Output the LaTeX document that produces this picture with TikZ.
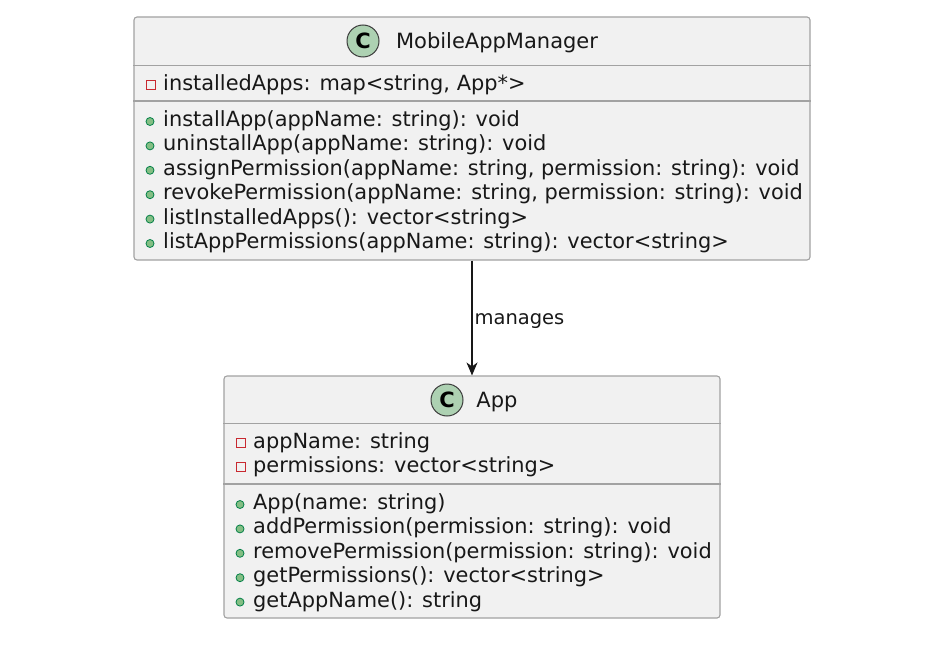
\documentclass[tikz,border=0pt]{standalone}
\usepackage{fontspec}
\setmainfont{DejaVu Sans}
\usetikzlibrary{arrows.meta}
\definecolor{boxfill}{HTML}{F1F1F1}
\definecolor{boxline}{HTML}{A2A2A2}
\definecolor{spotfill}{HTML}{ADD1B2}
\definecolor{pubfill}{HTML}{84BE84}
\definecolor{publine}{HTML}{038048}
\definecolor{privline}{HTML}{C82930}
\definecolor{inkline}{HTML}{181818}
\tikzset{
	classbox/.style={draw=boxline, fill=boxfill, line width=1.1pt, rounded corners=3pt, inner sep=0pt},
	sepline/.style={draw=boxline, line width=1.1pt},
	spot/.style={circle, draw=inkline!85, fill=spotfill, line width=1pt, minimum size=32pt, inner sep=0pt, font=\bfseries\fontsize{21}{21}\selectfont},
	classname/.style={anchor=base, inner sep=0pt, text=inkline, font=\fontsize{21}{24}\selectfont},
	member/.style={anchor=base west, inner sep=0pt, text=inkline, font=\fontsize{20.9}{24}\selectfont},
	pubdot/.style={draw=publine, fill=pubfill, line width=0.8pt},
	privbox/.style={draw=privline, line width=1pt},
	relation/.style={draw=inkline, line width=1.1pt, -{Stealth[length=13pt, width=11pt, inset=4pt]}},
	rellabel/.style={anchor=west, inner sep=0pt, text=inkline, font=\fontsize{19.5}{22}\selectfont}
}
\begin{document}
\begin{tikzpicture}[x=1pt, y=-1pt]
	%%%%% START %%%%%
	\useasboundingbox (0,0) rectangle (925,647);
	
	% MobileAppManager
	\node[classbox, minimum width=676pt, minimum height=243pt] (mgr) at (472,138.5) {};
	\node[spot] (mgrspot) at (363,41) {C};
	\node[classname] (mgrname) at (497,48.6) {MobileAppManager};
	\draw[sepline] (mgr.west |- 0,65.5) -- (mgr.east |- 0,65.5);
	\draw[sepline] (mgr.west |- 0,101) -- (mgr.east |- 0,101);
	
	\draw[privbox] (146.5,80.5) rectangle (155.5,89.5);
	\node[member] (mgrattr) at (163,90.5) {installedApps: map<string, App*>};
	
	\foreach \txt [count=\i] in {
		{installApp(appName: string): void},
		{uninstallApp(appName: string): void},
		{assignPermission(appName: string, permission: string): void},
		{revokePermission(appName: string, permission: string): void},
		{listInstalledApps(): vector<string>},
		{listAppPermissions(appName: string): vector<string>}}{
		\draw[pubdot] (150,{121.5+24.4*(\i-1)}) circle (4);
		\node[member] (mgrop\i) at (163,{126.5+24.4*(\i-1)}) {\txt};
	}
	
	% App
	\node[classbox, minimum width=496pt, minimum height=242pt] (app) at (472,497) {};
	\node[spot] (appspot) at (447,400) {C};
	\node[classname] (appname) at (497,407.6) {App};
	\draw[sepline] (app.west |- 0,423.5) -- (app.east |- 0,423.5);
	\draw[sepline] (app.west |- 0,484) -- (app.east |- 0,484);
	
	\foreach \txt [count=\i] in {
		{appName: string},
		{permissions: vector<string>}}{
		\draw[privbox] (236,{438.5+24.4*(\i-1)}) rectangle (245,{447.5+24.4*(\i-1)});
		\node[member] (appattr\i) at (253,{448.5+24.4*(\i-1)}) {\txt};
	}
	\foreach \txt [count=\i] in {
		{App(name: string)},
		{addPermission(permission: string): void},
		{removePermission(permission: string): void},
		{getPermissions(): vector<string>},
		{getAppName(): string}}{
		\draw[pubdot] (240,{504.5+24.4*(\i-1)}) circle (4);
		\node[member] (appop\i) at (253,{509.5+24.4*(\i-1)}) {\txt};
	}
	
	% relation
	\draw[relation] (mgr.south) -- node[rellabel, xshift=2pt, yshift=-3pt] (rel) {manages} (app.north);
	
	%%%%% END %%%%%
\end{tikzpicture}
\end{document}
